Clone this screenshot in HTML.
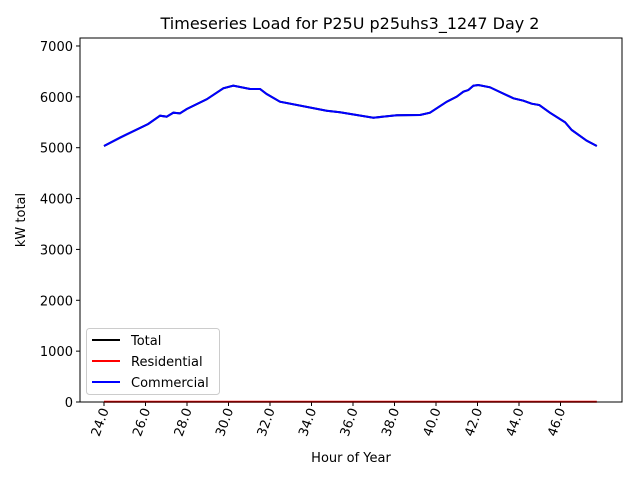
<!DOCTYPE html>
<html><head><meta charset="utf-8"><style>body{margin:0;background:#fff}svg{display:block;font-family:"DejaVu Sans","Liberation Sans",sans-serif}</style></head>
<body>
<svg id="chart" width="640" height="480"></svg>
<script>
const hours=[24,24.77,26.13,26.7,27.02,27.34,27.66,27.99,28.95,29.75,30.23,31.04,31.52,31.84,32.48,34.73,35.37,36.98,38.11,39.23,39.71,40.52,41.0,41.32,41.56,41.8,42.04,42.6,43.08,43.73,44.21,44.61,44.98,45.49,46.22,46.54,47.26,47.75];
const commercial=[5033,5197,5466,5629,5610,5688,5676,5761,5952,6168,6219,6154,6154,6056,5904,5727,5696,5590,5637,5643,5688,5904,6003,6101,6134,6219,6233,6188,6095,5971,5924,5865,5839,5688,5500,5348,5138,5033];
const totalLoad=commercial.slice();
const residential=hours.map(()=>5);
const xTicks=[24,26,28,30,32,34,36,38,40,42,44,46];
const yTicks=[0,1000,2000,3000,4000,5000,6000,7000];
const NS='http://www.w3.org/2000/svg',svg=document.getElementById('chart');
const L=80,R=622,T=38,B=402;
const x=h=>104+(h-24)*20.75;
const y=v=>B-v*0.05086;
function mk(t,a,p){const e=document.createElementNS(NS,t);for(const k in a)e.setAttribute(k,a[k]);(p||svg).appendChild(e);return e;}
let e=mk('text',{x:350,y:29,'font-size':16,'text-anchor':'middle'});e.textContent='Timeseries Load for P25U p25uhs3_1247  Day 2';


xTicks.forEach(t=>{const g=mk('g',{});


mk('line',{x1:x(t),x2:x(t),y1:B,y2:B+4,stroke:'#000'},g);
const tx=mk('text',{x:0,y:0,'font-size':13,'text-anchor':'end',transform:`translate(${x(t)+5},${B+8}) rotate(-70)`},g);tx.textContent=t.toFixed(1);});
yTicks.forEach(t=>{const g=mk('g',{});


mk('line',{x1:L-4,x2:L,y1:y(t),y2:y(t),stroke:'#000'},g);
const tx=mk('text',{x:L-7,y:y(t)+5,'font-size':13,'text-anchor':'end'},g);tx.textContent=t;});
function line(arr,col,name){const p=mk('polyline',{points:hours.map((h,i)=>x(h)+','+y(arr[i])).join(' '),fill:'none',stroke:col,'stroke-width':2});

}
line(totalLoad,'#000','total-line');line(residential,'#f00','residential-line');line(commercial,'#00f','commercial-line');
e=mk('rect',{x:L,y:T,width:R-L,height:B-T,fill:'none',stroke:'#000','stroke-width':1});


e=mk('text',{x:351,y:462,'font-size':13,'text-anchor':'middle'});e.textContent='Hour of Year';


e=mk('text',{x:0,y:0,'font-size':13,'text-anchor':'middle',transform:'translate(25,220) rotate(-90)'});e.textContent='kW total';


const lg=mk('g',{});


mk('rect',{x:86.5,y:328.5,width:133,height:66,rx:3,fill:'#fff',stroke:'#ccc'},lg);
[['Total','#000'],['Residential','#f00'],['Commercial','#00f']].forEach((d,i)=>{const g=mk('g',{},lg);


mk('line',{x1:92,x2:120,y1:340+i*21,y2:340+i*21,stroke:d[1],'stroke-width':2},g);
const t=mk('text',{x:131,y:345+i*21,'font-size':13},g);t.textContent=d[0];});
</script>
</body></html>
